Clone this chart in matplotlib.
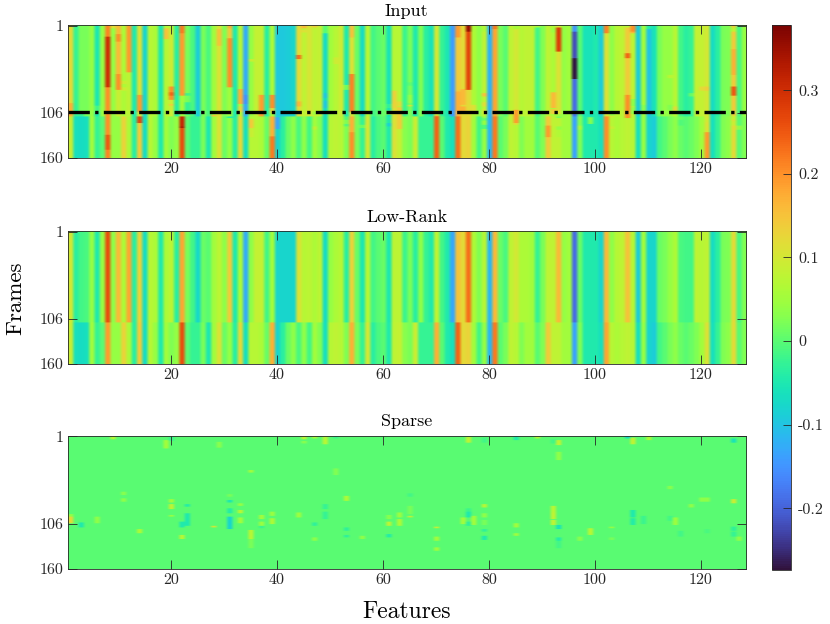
import numpy as np
import matplotlib
matplotlib.use("Agg")
import matplotlib.pyplot as plt

plt.rcParams['font.family'] = ['cmr10', 'DejaVu Serif']
plt.rcParams['axes.unicode_minus'] = False

# values per feature, read by eye from the colours
low_upper = [0.1, -0.035, -0.015, -0.01, 0.04, -0.045, 0.04, 0.26, 0.035, 0.16,
             0.06, 0.18, -0.035, 0.13, -0.07, 0.07, 0.06, -0.045, 0.06, 0.075,
             -0.035, 0.18, 0.02, -0.015, -0.075, 0.01, 0.0, 0.05, 0.075, 0.035,
             0.14, -0.045, 0.06, -0.125, 0.035, 0.085, 0.085, -0.015, 0.05, -0.08,
             -0.08, -0.08, -0.08, 0.11, 0.07, 0.075, 0.06, 0.075, -0.07, 0.04,
             0.06, 0.07, -0.035, 0.13, 0.01, -0.05, 0.07, -0.015, 0.0, 0.01,
             -0.05, 0.075, 0.075, -0.02, 0.02, -0.035, 0.035, -0.025, -0.045, 0.08,
             -0.015, -0.045, -0.13, 0.15, 0.12, 0.23, 0.06, 0.025, 0.07, -0.115,
             0.16, 0.01, -0.01, 0.08, 0.1, 0.06, 0.06, 0.05, -0.025, 0.02,
             0.08, 0.08, 0.16, 0.04, 0.05, -0.19, 0.01, -0.045, -0.045, -0.045,
             -0.08, 0.16, 0.035, 0.07, 0.08, 0.15, 0.07, -0.09, 0.05, -0.08,
             -0.08, 0.01, 0.02, 0.04, 0.06, -0.01, -0.015, -0.015, 0.08, 0.07,
             0.08, -0.07, -0.035, 0.02, 0.025, 0.12, -0.01, 0.025]

low_lower = [0.09, -0.065, -0.07, -0.065, 0.05, -0.025, 0.0, 0.19, 0.04, 0.04,
             0.13, 0.06, -0.035, 0.14, -0.07, 0.07, 0.04, -0.045, 0.05, 0.025,
             0.04, 0.26, 0.0, -0.025, -0.025, 0.02, -0.05, 0.05, 0.11, 0.01,
             0.04, -0.035, 0.12, -0.065, 0.07, 0.07, 0.06, 0.01, 0.17, -0.08,
             -0.035, 0.01, 0.035, -0.01, 0.035, -0.015, 0.05, 0.025, -0.065, 0.07,
             0.08, 0.07, 0.025, 0.17, 0.02, -0.025, 0.1, -0.035, -0.01, 0.0,
             -0.045, 0.08, 0.085, 0.03, 0.02, 0.09, -0.025, -0.025, -0.025, 0.17,
             0.0, -0.045, -0.065, 0.24, 0.12, 0.13, 0.05, -0.015, 0.04, -0.115,
             0.22, 0.0, 0.02, 0.08, 0.07, 0.025, 0.05, 0.05, 0.0, 0.025,
             0.14, 0.08, 0.08, 0.05, 0.05, -0.135, 0.025, -0.045, -0.045, -0.045,
             -0.065, 0.18, 0.07, 0.06, 0.07, 0.08, 0.07, -0.065, 0.04, -0.08,
             -0.09, -0.015, 0.0, 0.02, 0.035, 0.01, 0.0, 0.01, 0.025, 0.05,
             0.11, -0.065, -0.025, 0.025, 0.035, 0.12, 0.0, 0.025]

input_upper = [0.12, -0.025, 0.02, 0.02, 0.04, -0.05, 0.04, 0.21, 0.04, 0.16,
               0.06, 0.19, -0.045, 0.11, -0.08, 0.07, 0.06, -0.05, 0.07, 0.095,
               -0.035, 0.19, 0.02, -0.01, -0.09, 0.02, -0.01, 0.05, 0.11, 0.025,
               0.17, -0.045, 0.07, -0.125, 0.04, 0.085, 0.085, -0.035, 0.06, -0.095,
               -0.095, -0.09, -0.08, 0.12, 0.08, 0.105, 0.08, 0.085, -0.07, 0.05,
               0.07, 0.095, -0.045, 0.11, 0.01, -0.07, 0.07, -0.015, 0.0, 0.01,
               -0.06, 0.07, 0.07, -0.02, 0.02, -0.045, 0.025, -0.035, -0.06, 0.1,
               -0.025, -0.05, -0.14, 0.19, 0.12, 0.27, 0.06, 0.035, 0.08, -0.12,
               0.18, 0.02, 0.0, 0.08, 0.1, 0.07, 0.08, 0.08, -0.015, 0.025,
               0.08, 0.06, 0.11, 0.04, 0.05, -0.18, 0.0, -0.06, -0.06, -0.045,
               -0.09, 0.11, 0.035, 0.07, 0.08, 0.14, 0.08, -0.09, 0.05, -0.1,
               -0.06, 0.02, 0.04, 0.04, 0.07, -0.015, -0.035, -0.025, 0.085, 0.085,
               0.1, -0.07, -0.035, 0.02, 0.025, 0.14, -0.01, 0.04]

# (feature, first frame, last frame, value) where Input departs from the bands
input_patches = [(1, 95, 110, 0.17), (8, 15, 75, 0.3), (8, 76, 132, 0.2),
                 (8, 133, 150, 0.25), (8, 151, 160, 0.21), (10, 12, 20, 0.2),
                 (10, 60, 78, 0.2), (10, 79, 110, 0.09), (12, 58, 110, 0.08),
                 (14, 85, 105, 0.19), (14, 111, 118, 0.27), (19, 5, 17, 0.15),
                 (20, 75, 90, 0.2), (20, 82, 85, 0.24), (22, 1, 10, 0.22),
                 (22, 86, 110, 0.05), (22, 111, 122, 0.31), (29, 6, 25, 0.15),
                 (31, 5, 16, 0.14), (31, 17, 75, 0.2), (31, 76, 110, 0.05),
                 (33, 78, 95, 0.17), (34, 85, 95, -0.15), (37, 85, 110, 0.19),
                 (39, 85, 100, 0.2), (39, 135, 160, 0.22), (40, 112, 125, -0.13),
                 (44, 37, 41, 0.23), (54, 1, 15, 0.15), (54, 60, 105, 0.21),
                 (54, 130, 160, 0.2), (62, 80, 100, 0.13), (62, 101, 160, 0.11),
                 (63, 100, 125, 0.14), (70, 111, 160, 0.24), (74, 16, 80, 0.14),
                 (74, 81, 110, 0.17), (74, 111, 160, 0.23), (75, 78, 96, 0.16),
                 (76, 1, 8, 0.35), (76, 9, 78, 0.27), (76, 79, 110, 0.12),
                 (81, 1, 5, 0.22), (85, 103, 118, 0.19), (91, 122, 135, 0.19),
                 (92, 82, 100, 0.16), (93, 4, 32, 0.28), (96, 1, 8, -0.15),
                 (96, 9, 40, -0.22), (96, 41, 65, -0.27), (96, 66, 105, -0.19),
                 (102, 1, 10, 0.21), (102, 111, 160, 0.2), (106, 35, 40, 0.24),
                 (106, 85, 112, 0.2), (107, 1, 8, 0.2), (121, 130, 160, 0.19),
                 (126, 30, 60, 0.17), (126, 75, 85, 0.25)]

# (feature, first frame, last frame, value) of the visible Sparse streaks
sparse_spots = [(9, 1, 4, 0.07), (19, 6, 15, 0.05), (20, 2, 6, -0.02), (29, 8, 14, 0.03),
                (45, 1, 4, 0.08), (45, 7, 9, 0.03), (47, 1, 3, 0.06), (49, 1, 10, 0.07),
                (51, 1, 3, -0.02), (35, 42, 44, 0.05), (51, 40, 47, 0.025), (11, 68, 71, 0.03),
                (11, 76, 79, 0.035), (20, 77, 80, 0.05), (20, 83, 88, 0.08), (20, 96, 97, 0.04),
                (23, 83, 85, -0.04), (23, 94, 108, -0.045), (22, 104, 110, -0.045),
                (31, 78, 80, -0.05), (31, 88, 93, -0.04), (31, 98, 112, -0.08), (31, 71, 73, 0.02),
                (28, 109, 110, 0.1), (33, 82, 84, 0.04), (33, 90, 93, 0.07), (33, 99, 105, 0.05),
                (37, 96, 100, 0.05), (37, 104, 108, 0.045), (37, 109, 111, -0.02),
                (39, 92, 96, 0.045), (39, 100, 106, 0.06), (44, 93, 98, 0.045),
                (49, 83, 88, -0.025), (49, 92, 100, -0.025), (53, 73, 78, 0.06),
                (53, 111, 114, -0.03), (53, 120, 122, -0.03), (61, 104, 108, 0.075),
                (61, 96, 100, 0.03), (61, 119, 122, -0.04), (63, 93, 98, 0.045),
                (63, 101, 108, 0.06), (1, 98, 105, 0.12), (1, 95, 97, 0.04),
                (3, 105, 110, -0.045), (6, 98, 105, 0.035), (14, 113, 117, 0.06),
                (22, 120, 124, 0.07), (35, 114, 124, 0.07), (35, 125, 135, 0.02),
                (47, 105, 108, -0.03), (47, 123, 126, 0.035), (56, 121, 124, 0.035),
                (76, 2, 8, 0.08), (79, 3, 8, -0.015), (85, 1, 5, -0.045), (89, 1, 3, 0.07),
                (92, 5, 9, -0.015), (93, 6, 11, 0.08), (93, 20, 29, 0.035), (106, 1, 3, -0.07),
                (107, 3, 10, 0.08), (110, 1, 5, 0.06), (126, 4, 8, -0.055), (65, 70, 73, -0.015),
                (65, 85, 94, 0.02), (65, 97, 98, 0.08), (70, 110, 111, 0.09), (70, 122, 126, 0.05),
                (70, 135, 138, 0.05), (75, 99, 106, 0.05), (76, 92, 98, -0.045), (76, 88, 91, -0.02),
                (76, 104, 108, -0.03), (77, 97, 107, 0.05), (79, 83, 86, 0.07), (79, 94, 98, 0.035),
                (79, 102, 107, 0.02), (79, 113, 115, -0.03), (79, 121, 125, -0.045),
                (85, 106, 110, 0.05), (85, 118, 120, 0.05), (92, 85, 92, 0.07), (92, 93, 100, 0.08),
                (92, 102, 107, 0.08), (93, 108, 112, -0.06), (93, 123, 126, -0.04),
                (93, 127, 135, -0.015), (97, 122, 126, 0.03), (99, 112, 119, 0.07),
                (103, 110, 111, 0.04), (103, 123, 125, 0.02), (107, 90, 98, -0.045),
                (107, 100, 107, -0.04), (109, 97, 106, -0.02), (114, 61, 64, 0.03),
                (114, 97, 102, -0.015), (115, 99, 107, 0.045), (116, 115, 121, -0.015),
                (118, 83, 86, 0.035), (120, 75, 79, 0.035), (121, 75, 79, 0.035), (126, 77, 81, 0.09),
                (126, 110, 114, -0.03), (126, 116, 121, -0.025), (127, 122, 126, 0.035),
                (121, 113, 117, -0.01)]

n_frames = 160
n_features = 128
split_low = 111   # first frame of the lower band
marked_frame = 105
vmin, vmax = -0.274, 0.378
titles = ['Input', 'Low-Rank', 'Sparse']
x_ticks = [20, 40, 60, 80, 100, 120]
y_ticks = [1, 106, 160]
cbar_ticks = [-0.2, -0.1, 0, 0.1, 0.2, 0.3]
cbar_labels = ['-0.2', '-0.1', '0', '0.1', '0.2', '0.3']

Low = np.zeros((n_frames, n_features))
Low[:split_low - 1] = low_upper
Low[split_low - 1:] = low_lower

Sparse = np.zeros((n_frames, n_features))
for f, a, b, v in sparse_spots:
    Sparse[a - 1:b, f - 1] = v

Inp = np.zeros((n_frames, n_features))
Inp[:split_low - 1] = input_upper
Inp[split_low - 1:] = low_lower
Inp = Inp + Sparse
for f, a, b, v in input_patches:
    Inp[a - 1:b, f - 1] = v

fig = plt.figure(figsize=(8.3, 6.24), dpi=100)
W, H = 830.0, 624.0
tops = [25.3, 231.3, 436]
dark = '#262626'
for data, title, top in zip([Inp, Low, Sparse], titles, tops):
    ax = fig.add_axes([67.5 / W, 1 - (top + 133) / H, 678.5 / W, 133 / H])
    im = ax.imshow(data, cmap='turbo', vmin=vmin, vmax=vmax, aspect='auto',
                   extent=[0.5, n_features + 0.5, n_frames + 0.5, 0.5])
    ax.set_xticks(x_ticks)
    ax.set_yticks(y_ticks)
    ax.tick_params(direction='in', length=6.5, width=0.6, top=True, right=True,
                   labelsize=11.5, colors=dark, pad=3)
    ax.set_title(title, fontsize=13, color='black', pad=7)
    for s in ax.spines.values():
        s.set_linewidth(0.6)
        s.set_color(dark)
    if title == 'Input':
        ax.axhline(marked_frame, color='black', ls='-.', lw=2.4)
    if title == 'Low-Rank':
        ax.set_ylabel('Frames', fontsize=16.5, labelpad=10)
    if title == 'Sparse':
        ax.set_xlabel('Features', fontsize=17, labelpad=10)

cax = fig.add_axes([772 / W, 1 - 570 / H, 19 / W, 545 / H])
cb = fig.colorbar(im, cax=cax)
cb.set_ticks(cbar_ticks)
cb.set_ticklabels(cbar_labels)
cb.ax.tick_params(direction='in', length=6, width=0.6, labelsize=11.5, colors=dark, pad=5)
cb.outline.set_linewidth(0.6)
cb.outline.set_edgecolor(dark)

fig.savefig('out.png', dpi=100)
